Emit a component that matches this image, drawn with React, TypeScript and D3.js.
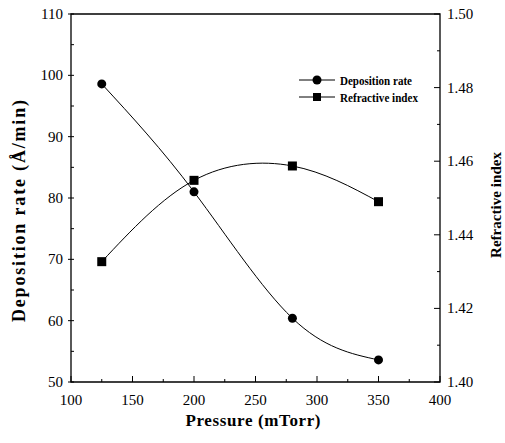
import React from 'react';
import * as d3 from 'd3';

// pressure (mTorr)
const pressure = [125, 200, 280, 350];
const depositionRate = [98.6, 81.0, 60.4, 53.6];
const refractiveIndex = [1.4327, 1.4548, 1.4587, 1.449];

const xTicks = [100, 150, 200, 250, 300, 350, 400];
const leftTicks = [50, 60, 70, 80, 90, 100, 110];
const rightTicks = [1.4, 1.42, 1.44, 1.46, 1.48, 1.5];

const W = 505;
const H = 443;
const m = { left: 71, right: 65, top: 14, bottom: 61 };
const serif = '"Liberation Serif", "DejaVu Serif", serif';

const App = () => {
  const x = d3.scaleLinear().domain([100, 400]).range([m.left, W - m.right]);
  const yL = d3.scaleLinear().domain([50, 110]).range([H - m.bottom, m.top]);
  const yR = d3.scaleLinear().domain([1.4, 1.5]).range([H - m.bottom, m.top]);

  const depLine = d3.line<number>()
    .x((d, i) => x(pressure[i]))
    .y(d => yL(d))
    .curve(d3.curveNatural);
  const riLine = d3.line<number>()
    .x((d, i) => x(pressure[i]))
    .y(d => yR(d))
    .curve(d3.curveNatural);

  const x0 = x.range()[0], x1 = x.range()[1];
  const y0 = yL.range()[0], y1 = yL.range()[1];

  const xMinor = d3.range(125, 400, 50);
  const lMinor = d3.range(55, 110, 10);
  const rMinor = d3.range(1.41, 1.5, 0.02);

  const lg = { x: 299, y: 80, gap: 17 };

  return (
    <svg width={W} height={H} style={{ position: 'absolute', left: 0, top: 0, background: '#fff' }}
      fontFamily={serif}>
      {/* frame */}
      <path d={`M${x0},${y1}H${x1}V${y0}H${x0}Z`} fill="none" stroke="#000" strokeWidth={1.3} />

      {/* bottom axis */}
      {xTicks.map(t => (
        <g key={'x' + t}>
          <line x1={x(t)} x2={x(t)} y1={y0} y2={y0 - 6} stroke="#000" />
          <text x={x(t)} y={y0 + 23} textAnchor="middle" fontSize={15}>{t}</text>
        </g>
      ))}
      {xMinor.map(t => (
        <line key={'xm' + t} x1={x(t)} x2={x(t)} y1={y0} y2={y0 - 3} stroke="#000" />
      ))}

      {/* left axis */}
      {leftTicks.map(t => (
        <g key={'l' + t}>
          <line x1={x0 - 3} x2={x0 + 3} y1={yL(t)} y2={yL(t)} stroke="#000" />
          <text x={x0 - 8} y={yL(t) + 5} textAnchor="end" fontSize={15}>{t}</text>
        </g>
      ))}
      {lMinor.map(t => (
        <line key={'lm' + t} x1={x0} x2={x0 + 3} y1={yL(t)} y2={yL(t)} stroke="#000" />
      ))}

      {/* right axis */}
      {rightTicks.map(t => (
        <g key={'r' + t}>
          <line x1={x1 - 6} x2={x1} y1={yR(t)} y2={yR(t)} stroke="#000" />
          <text x={x1 + 7} y={yR(t) + 5} fontSize={15}>{t.toFixed(2)}</text>
        </g>
      ))}
      {rMinor.map(t => (
        <line key={'rm' + t} x1={x1 - 3} x2={x1} y1={yR(t)} y2={yR(t)} stroke="#000" />
      ))}

      {/* series */}
      <path d={depLine(depositionRate) ?? ''} fill="none" stroke="#000" strokeWidth={1} />
      <path d={riLine(refractiveIndex) ?? ''} fill="none" stroke="#000" strokeWidth={1} />
      {depositionRate.map((d, i) => (
        <circle key={'c' + i} cx={x(pressure[i])} cy={yL(d)} r={4.5} fill="#000" />
      ))}
      {refractiveIndex.map((d, i) => (
        <rect key={'s' + i} x={x(pressure[i]) - 4.5} y={yR(d) - 4.5} width={9} height={9} fill="#000" />
      ))}

      {/* legend */}
      <g fontSize={13} fontWeight="bold">
        <line x1={lg.x} x2={lg.x + 36} y1={lg.y} y2={lg.y} stroke="#000" />
        <circle cx={lg.x + 18} cy={lg.y} r={4.5} fill="#000" />
        <text x={lg.x + 41} y={lg.y + 4.5} textLength={72} lengthAdjust="spacingAndGlyphs">Deposition rate</text>
        <line x1={lg.x} x2={lg.x + 36} y1={lg.y + lg.gap} y2={lg.y + lg.gap} stroke="#000" />
        <rect x={lg.x + 14} y={lg.y + lg.gap - 4} width={8} height={8} fill="#000" />
        <text x={lg.x + 41} y={lg.y + lg.gap + 4.5} textLength={78} lengthAdjust="spacingAndGlyphs">Refractive index</text>
      </g>

      {/* axis titles */}
      <text x={253} y={426} textAnchor="middle" fontSize={17} fontWeight="bold" textLength={135}>
        Pressure  (mTorr)
      </text>
      <text transform={`translate(25,211) rotate(-90)`} textAnchor="middle" fontSize={18} fontWeight="bold" textLength={222}>
        Deposition rate  (Å/min)
      </text>
      <text transform={`translate(501,205) rotate(-90)`} textAnchor="middle" fontSize={15} fontWeight="bold" textLength={106}>
        Refractive index
      </text>
    </svg>
  );
};

export default App;
